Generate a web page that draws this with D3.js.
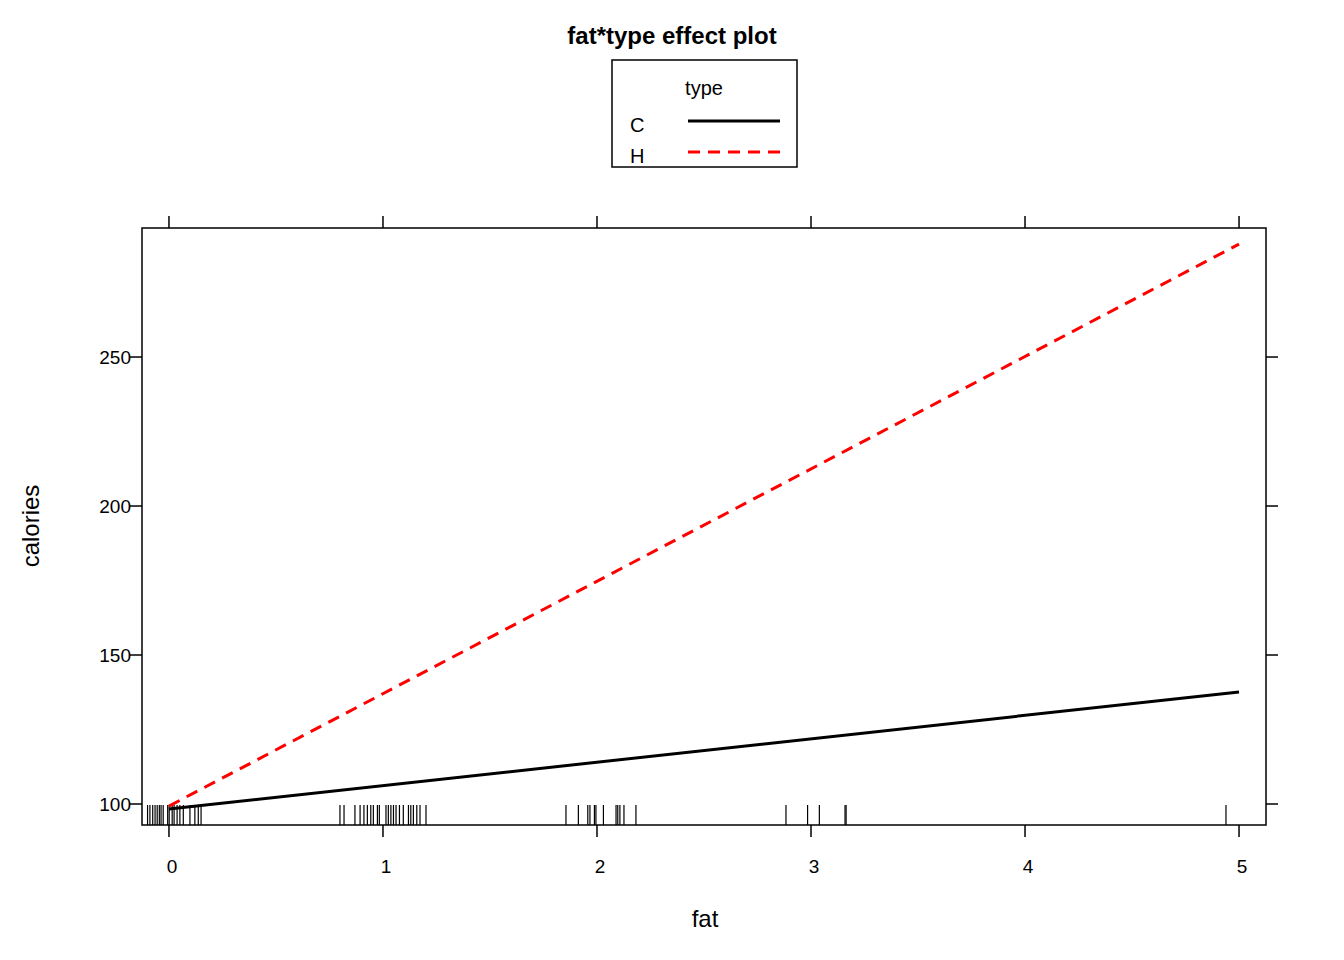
<!DOCTYPE html>
<html><head><meta charset="utf-8">
<script src="https://cdn.jsdelivr.net/npm/d3@7"></script>
<style>body{margin:0;background:#fff}text{font-family:"Liberation Sans",Arial,sans-serif}</style>
</head><body>
<script>
const xTicks=[0,1,2,3,4,5];
const yTicks=[100,150,200,250];
const fatEnds=[0,5];
const caloriesC=[98.3,137.6];
const caloriesH=[99.3,287.9];
const rugFat=[-0.10,-0.089,-0.076,-0.065,-0.055,-0.045,-0.037,-0.027,-0.006,0.001,0.015,0.024,0.038,0.051,0.067,0.098,0.121,0.137,0.150,
0.799,0.818,0.869,0.893,0.911,0.927,0.943,0.955,0.974,0.983,1.014,1.025,1.037,1.049,1.061,1.077,1.095,1.119,1.130,1.142,1.158,1.173,1.201,
1.855,1.913,1.957,1.967,1.988,1.995,2.030,2.089,2.097,2.107,2.126,2.182,2.883,2.984,3.039,3.159,3.164,4.939];
const W=1344,H=960,L=142,R=1266,T=228,B=825;
const svg=d3.select("body").append("svg").attr("width",W).attr("height",H);
const x=d3.scaleLinear().domain([-0.126,5.126]).range([L,R]);
const y=d3.scaleLinear().domain([92.95,293.3]).range([B,T]);
svg.append("text").attr("x",672).attr("y",44).attr("text-anchor","middle").attr("font-size",24).attr("font-weight","bold").text("fat*type effect plot");
// legend
const lg=svg.append("g");
lg.append("rect").attr("x",612).attr("y",60).attr("width",185).attr("height",107).attr("fill","none").attr("stroke","#000").attr("stroke-width",1.5);
lg.append("text").attr("x",704).attr("y",95).attr("text-anchor","middle").attr("font-size",20).text("type");
lg.append("text").attr("x",630).attr("y",132).attr("font-size",20).text("C");
lg.append("text").attr("x",630).attr("y",163).attr("font-size",20).text("H");
lg.append("line").attr("x1",688).attr("x2",780).attr("y1",121).attr("y2",121).attr("stroke","#000").attr("stroke-width",3);
lg.append("line").attr("x1",688).attr("x2",780).attr("y1",152).attr("y2",152).attr("stroke","red").attr("stroke-width",3).attr("stroke-dasharray","12,8");
// frame
svg.append("rect").attr("x",L).attr("y",T).attr("width",R-L).attr("height",B-T).attr("fill","none").attr("stroke","#000").attr("stroke-width",1.5);
const tk=svg.append("g").attr("stroke","#000").attr("stroke-width",1.5);
xTicks.forEach(v=>{tk.append("line").attr("x1",x(v)).attr("x2",x(v)).attr("y1",B).attr("y2",B+12);
 tk.append("line").attr("x1",x(v)).attr("x2",x(v)).attr("y1",T).attr("y2",T-12);
 svg.append("text").attr("x",x(v)+3).attr("y",873).attr("text-anchor","middle").attr("font-size",19).text(v);});
yTicks.forEach(v=>{tk.append("line").attr("x1",L).attr("x2",L-12).attr("y1",y(v)).attr("y2",y(v));
 tk.append("line").attr("x1",R).attr("x2",R+12).attr("y1",y(v)).attr("y2",y(v));
 svg.append("text").attr("x",L-4-12+5).attr("y",y(v)+7).attr("text-anchor","end").attr("font-size",19).text(v);});
svg.append("text").attr("x",705).attr("y",927).attr("text-anchor","middle").attr("font-size",24).text("fat");
svg.append("text").attr("transform","translate(39,526) rotate(-90)").attr("text-anchor","middle").attr("font-size",24).text("calories");
// rug
svg.append("g").selectAll("line").data(rugFat).join("line").attr("x1",d=>x(d)).attr("x2",d=>x(d)).attr("y1",805).attr("y2",B).attr("stroke","#000").attr("stroke-width",1.2);
const line=d3.line().x(d=>x(d[0])).y(d=>y(d[1]));
svg.append("path").attr("d",line(fatEnds.map((f,i)=>[f,caloriesC[i]]))).attr("stroke","#000").attr("stroke-width",3).attr("fill","none");
svg.append("path").attr("d",line(fatEnds.map((f,i)=>[f,caloriesH[i]]))).attr("stroke","red").attr("stroke-width",3).attr("fill","none").attr("stroke-dasharray","12,8");
</script></body></html>
